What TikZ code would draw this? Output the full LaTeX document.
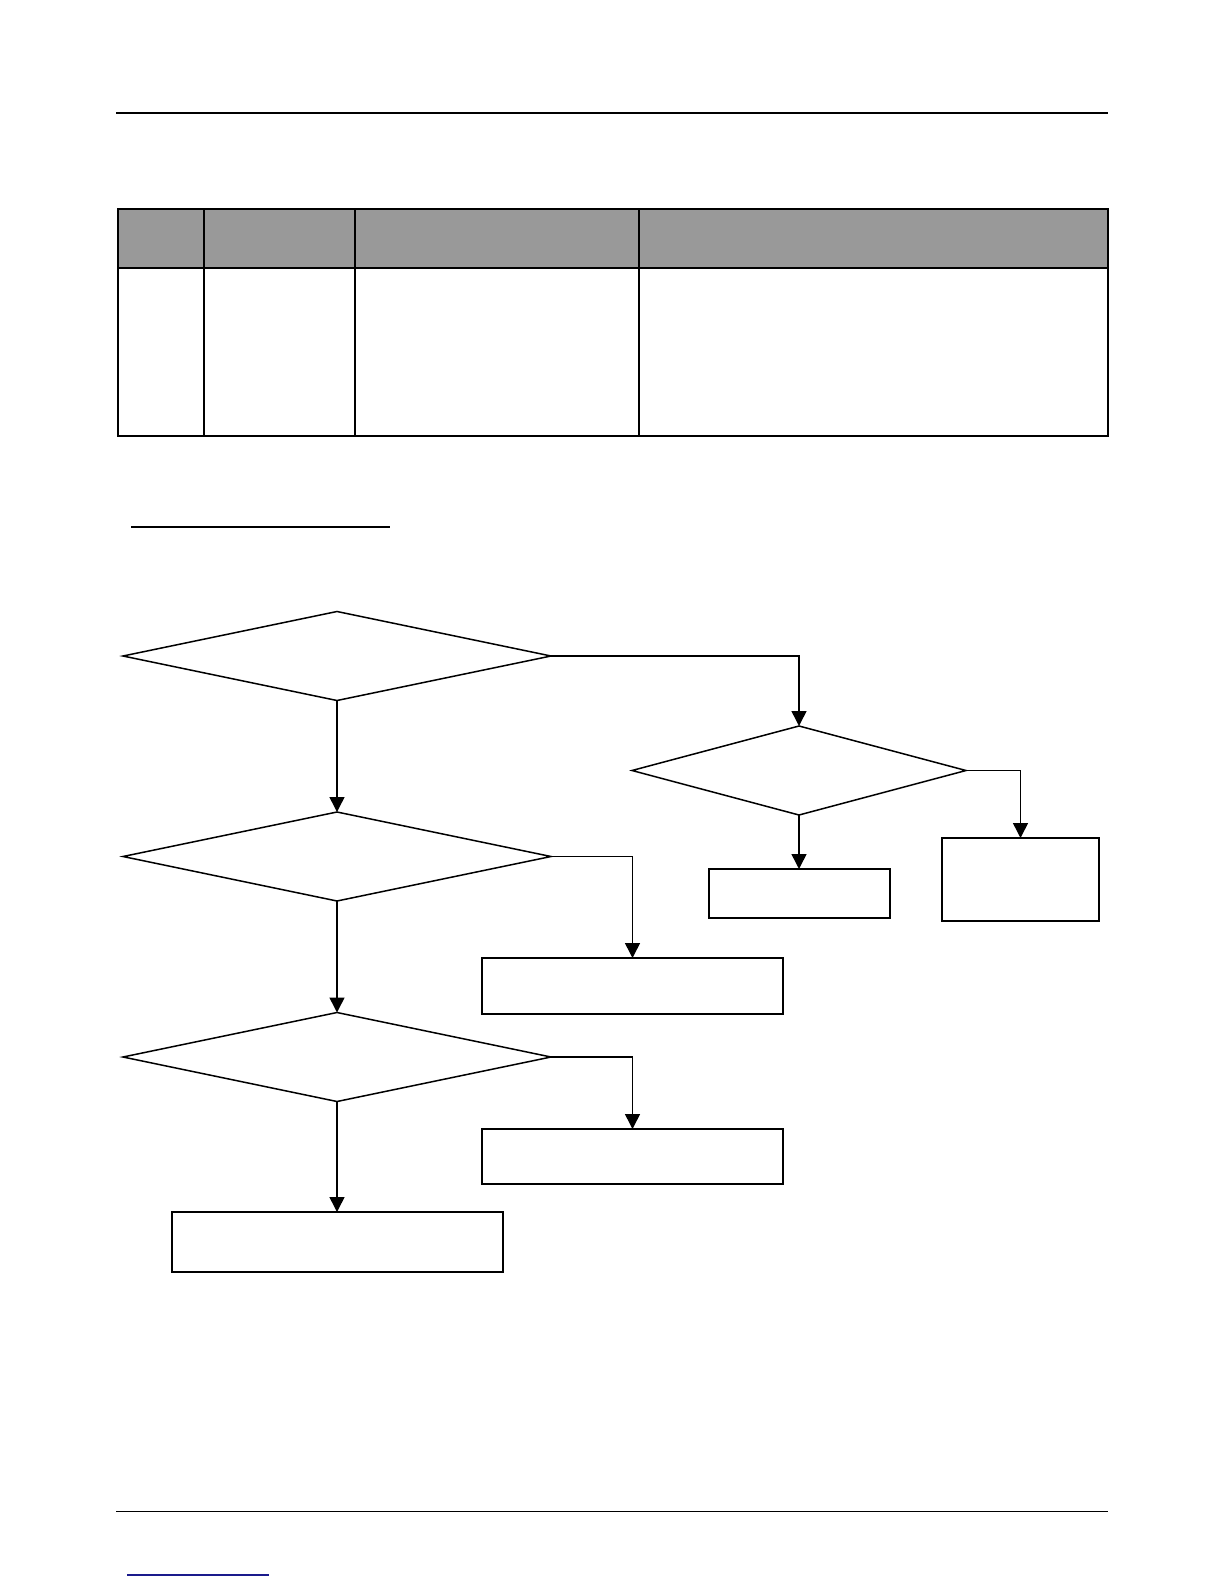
\documentclass[tikz,border=0pt]{standalone}
\usetikzlibrary{shapes.geometric,arrows.meta}

\definecolor{headgray}{RGB}{153,153,153}
\definecolor{linkblue}{RGB}{26,26,140}

\begin{document}
\begin{tikzpicture}[x=1pt, y=-1pt]
        \tikzstyle{decision} = [diamond, draw, line width=1.5pt, inner sep=0pt, outer sep=0pt, minimum width=428pt, minimum height=89pt]
        \tikzstyle{outcome} = [rectangle, draw, line width=2pt, inner sep=0pt, outer sep=0pt]
        \tikzstyle{flow} = [draw, line width=1.5pt, -{Triangle[length=15pt, width=15pt]}]

        \useasboundingbox (0,0) rectangle (1224,1584);

        % page rules
        \draw[line width=1.5pt] (116,113) -- (1108,113);
        \draw[line width=1.5pt] (116,1511.5) -- (1108,1511.5);
        \draw[line width=2pt] (131,527) -- (390,527);
        \draw[linkblue, line width=1.5pt] (127,1575) -- (269,1575);

        % table
        \fill[headgray] (118,209) rectangle (1108,268);
        \draw[line width=1.5pt] (118,268) -- (1108,268);
        \foreach \cx in {204, 355, 639} {
            \draw[line width=1.2pt] (\cx,209) -- (\cx,436);
        }
        \draw[line width=2pt] (118,209) rectangle (1108,436);

        % flow chart
        \node[decision] (d1) at (337,656) {};
        \node[decision] (d2) at (337,856.5) {};
        \node[decision] (d3) at (337,1057) {};
        \node[decision, minimum width=334pt] (d4) at (799,770.5) {};

        \node[outcome, minimum width=181pt, minimum height=49pt] (b1) at (799,893.5) {};
        \node[outcome, minimum width=157pt, minimum height=83pt] (b2) at (1020.5,879.5) {};
        \node[outcome, minimum width=301pt, minimum height=56pt] (b3) at (632.5,986) {};
        \node[outcome, minimum width=301pt, minimum height=55pt] (b4) at (632.5,1156.5) {};
        \node[outcome, minimum width=331pt, minimum height=60pt] (b5) at (337,1242) {};

        \draw[flow] (d1.south) -- (d2.north);
        \draw[flow] (d2.south) -- (d3.north);
        \draw[flow] (d3.south) -- (b5.north);
        \draw[flow] (d1.east) -| (d4.north);
        \draw[flow] (d4.south) -- (b1.north);
        \draw[flow] (d4.east) -| (b2.north);
        \draw[flow] (d2.east) -| (b3.north);
        \draw[flow] (d3.east) -| (b4.north);
    \end{tikzpicture}
\end{document}
